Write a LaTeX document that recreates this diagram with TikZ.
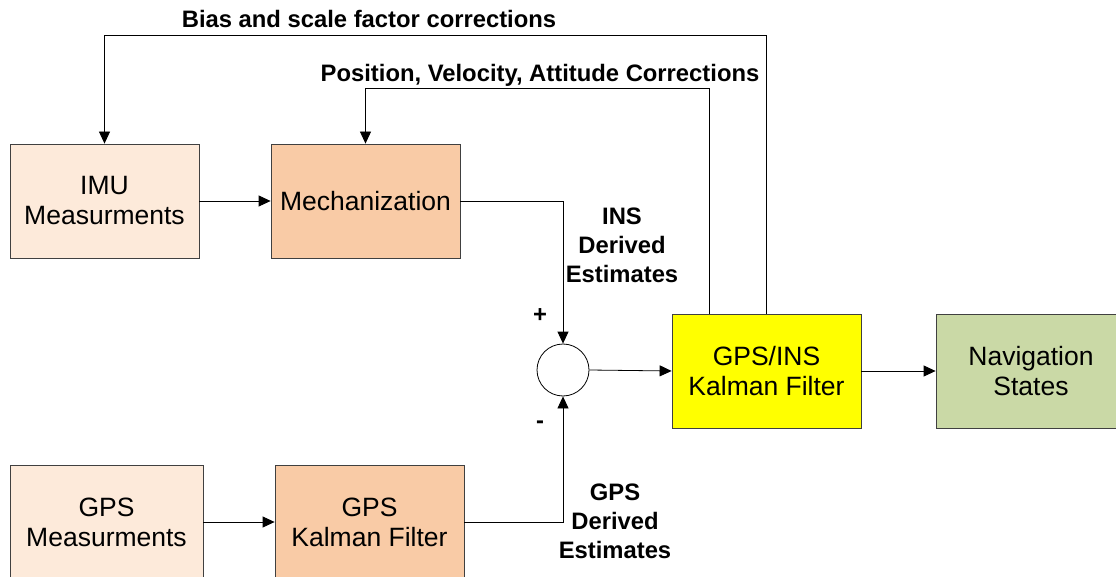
\documentclass[tikz,border=0pt]{standalone}
\usepackage{fontspec}
\setmainfont{Liberation Sans}
\usetikzlibrary{arrows.meta,calc}
\definecolor{lightpeach}{HTML}{FDEADA}
\definecolor{peach}{HTML}{F9CBA6}
\definecolor{kfyellow}{HTML}{FFFF00}
\definecolor{olivelight}{HTML}{CAD9A6}
\definecolor{edge}{HTML}{404040}
\tikzset{
  block/.style={draw=edge, line width=0.8pt, minimum width=189pt, minimum height=114pt,
    align=center, inner sep=0pt, font=\fontsize{26.5}{30}\selectfont},
  sumnode/.style={circle, draw=black, line width=0.8pt, minimum size=52pt, inner sep=0pt},
  flow/.style={line width=0.8pt, -{Triangle[length=12pt,width=11pt]}},
  tag/.style={align=center, inner sep=0pt, font=\bfseries\fontsize{23.8}{29}\selectfont}
}
\begin{document}
\begin{tikzpicture}[x=1pt,y=-1pt]
\useasboundingbox (0,0) rectangle (1116,577);
% processing blocks
\node[block, fill=lightpeach] (imu)   at (104.5,201) {IMU\\Measurments};
\node[block, fill=peach]      (mech)  at (365.5,201) {Mechanization};
\node[block, fill=lightpeach, minimum width=193pt] (gpsm) at (106.5,522) {GPS\\Measurments};
\node[block, fill=peach]      (gpskf) at (369.5,522) {GPS\\Kalman Filter};
\node[sumnode]                (sum)   at (563,370) {};
\node[block, fill=kfyellow]   (kf)    at (766.5,371) {GPS/INS\\Kalman Filter};
\node[block, fill=olivelight, minimum width=190pt] (nav) at (1031,371) {Navigation\\States};
% feedback routing points
\coordinate (biasy) at (0,35);
\coordinate (pvay) at (0,88);
\coordinate (pvastart) at ($(kf.north)+(-57,0)$);
% forward path
\draw[flow] (imu.east) -- (mech.west);
\draw[flow] (mech.east) -| (sum.north);
\draw[flow] (gpsm.east) -- (gpskf.west);
\draw[flow] (gpskf.east) -| (sum.south);
\draw[flow] (sum.east) -- (kf.west);
\draw[flow] (kf.east) -- (nav.west);
% feedback paths
\draw[flow] (kf.north) -- (kf.north |- biasy) -| (imu.north);
\draw[flow] (pvastart) -- (pvastart |- pvay) -| (mech.north);
% labels
\node[tag] (biaslbl) at (369,19) {Bias and scale factor corrections};
\node[tag] (pvalbl) at (540,75) {Position, Velocity, Attitude Corrections};
\node[tag] (inslbl) at (622,245) {INS\\Derived\\Estimates};
\node[tag] (gpslbl) at (615,521) {GPS\\Derived\\Estimates};
\node[tag] (plus) at (540,316) {+};
\node[tag] (minus) at (540,425) {-};
\end{tikzpicture}
\end{document}
